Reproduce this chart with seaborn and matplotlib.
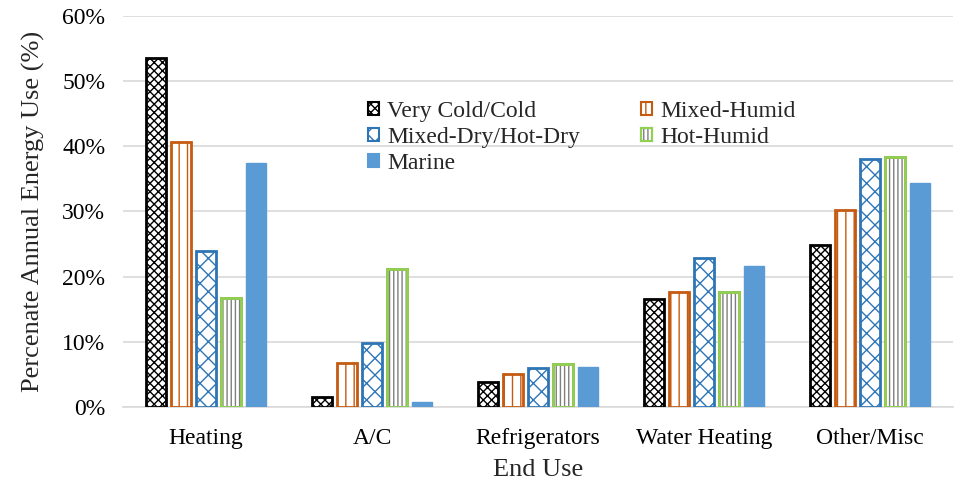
import pandas as pd
import matplotlib.pyplot as plt
import matplotlib.patches as mpatches
from matplotlib.ticker import PercentFormatter
import seaborn as sns

# Categories and series (percent of annual energy use)
end_uses = ['Heating', 'A/C', 'Refrigerators', 'Water Heating', 'Other/Misc']
zones = ['Very Cold/Cold', 'Mixed-Humid', 'Mixed-Dry/Hot-Dry', 'Hot-Humid', 'Marine']

very_cold = [53.5, 1.5, 3.9, 16.5, 24.9]
mixed_humid = [40.6, 6.7, 5.1, 17.7, 30.2]
mixed_dry = [23.9, 9.8, 6.0, 22.8, 38.1]
hot_humid = [16.7, 21.1, 6.6, 17.6, 38.4]
marine = [37.4, 0.8, 6.1, 21.6, 34.4]

series = [very_cold, mixed_humid, mixed_dry, hot_humid, marine]
rows = []
for zone, vals in zip(zones, series):
    for use, v in zip(end_uses, vals):
        rows.append({'End Use': use, 'Zone': zone, 'Share': v})
df = pd.DataFrame(rows)

# Styling per zone: (edge colour, hatch colour, hatch, face)
styles = {
    'Very Cold/Cold': ('black', 'black', 'xxxx', 'white'),
    'Mixed-Humid': ('#C55A11', '#C55A11', '||', 'white'),
    'Mixed-Dry/Hot-Dry': ('#2E75B6', '#2E75B6', 'xx', 'white'),
    'Hot-Humid': ('#92D050', '#7F7F7F', '||||', 'white'),
    'Marine': ('#5B9BD5', '#5B9BD5', '', '#5B9BD5'),
}

sns.set_theme(style='white')
plt.rcParams['font.family'] = ['Liberation Serif', 'DejaVu Serif']
plt.rcParams['hatch.linewidth'] = 1.0
fs = 17
fs_lab = 19

fig = plt.figure(figsize=(9.55, 4.8), dpi=100)
ax = fig.add_axes([0.129, 0.152, 0.869, 0.815])

sns.barplot(data=df, x='End Use', y='Share', hue='Zone', hue_order=zones,
            order=end_uses, width=0.75, gap=0.2, saturation=1,
            palette=[styles[z][3] for z in zones], legend=False, ax=ax)

handles = []
for zone, cont in zip(zones, ax.containers):
    edge, hcol, hatch, face = styles[zone]
    for bar in cont:
        bar.set_facecolor(face)
        bar.set_edgecolor(hcol)
        bar.set_hatch(hatch)
        bar.set_linewidth(2 if hatch else 1)
        bar.set_zorder(3)
        if hcol != edge:
            ax.add_patch(mpatches.Rectangle(bar.get_xy(), bar.get_width(), bar.get_height(),
                                            fill=False, edgecolor=edge, linewidth=2, zorder=4))
    h = mpatches.Patch(facecolor=face, edgecolor=hcol, hatch=hatch, linewidth=1.5)
    if hcol != edge:
        h = (h, mpatches.Patch(fill=False, edgecolor=edge, linewidth=1.5))
    handles.append(h)

ax.set_ylim(0, 60)
ax.set_xlim(-0.5, 4.5)
ax.yaxis.set_major_formatter(PercentFormatter(decimals=0))
ax.grid(axis='y', color='#D9D9D9', linewidth=1.2, zorder=0)
ax.set_axisbelow(True)
for s in ['top', 'right', 'left']:
    ax.spines[s].set_visible(False)
ax.spines['bottom'].set_color('#D9D9D9')
ax.spines['bottom'].set_linewidth(1.2)
ax.tick_params(axis='both', length=0, labelsize=fs, colors='black')
ax.tick_params(axis='y', pad=13)
ax.tick_params(axis='x', pad=15)
ax.set_xlabel('End Use', fontsize=fs_lab, labelpad=7)
ax.set_ylabel('Percenate Annual Energy Use (%)', fontsize=fs_lab, labelpad=12)

order = [0, 2, 4, 1, 3]
fig.legend([handles[i] for i in order], [zones[i] for i in order],
           loc='upper left', bbox_to_anchor=(0.373, 0.815), ncol=2, frameon=False,
           fontsize=fs, handlelength=0.45, handleheight=0.45, handletextpad=0.35,
           columnspacing=2.6, labelspacing=0.22, borderpad=0)

fig.savefig('out.png', dpi=100)
